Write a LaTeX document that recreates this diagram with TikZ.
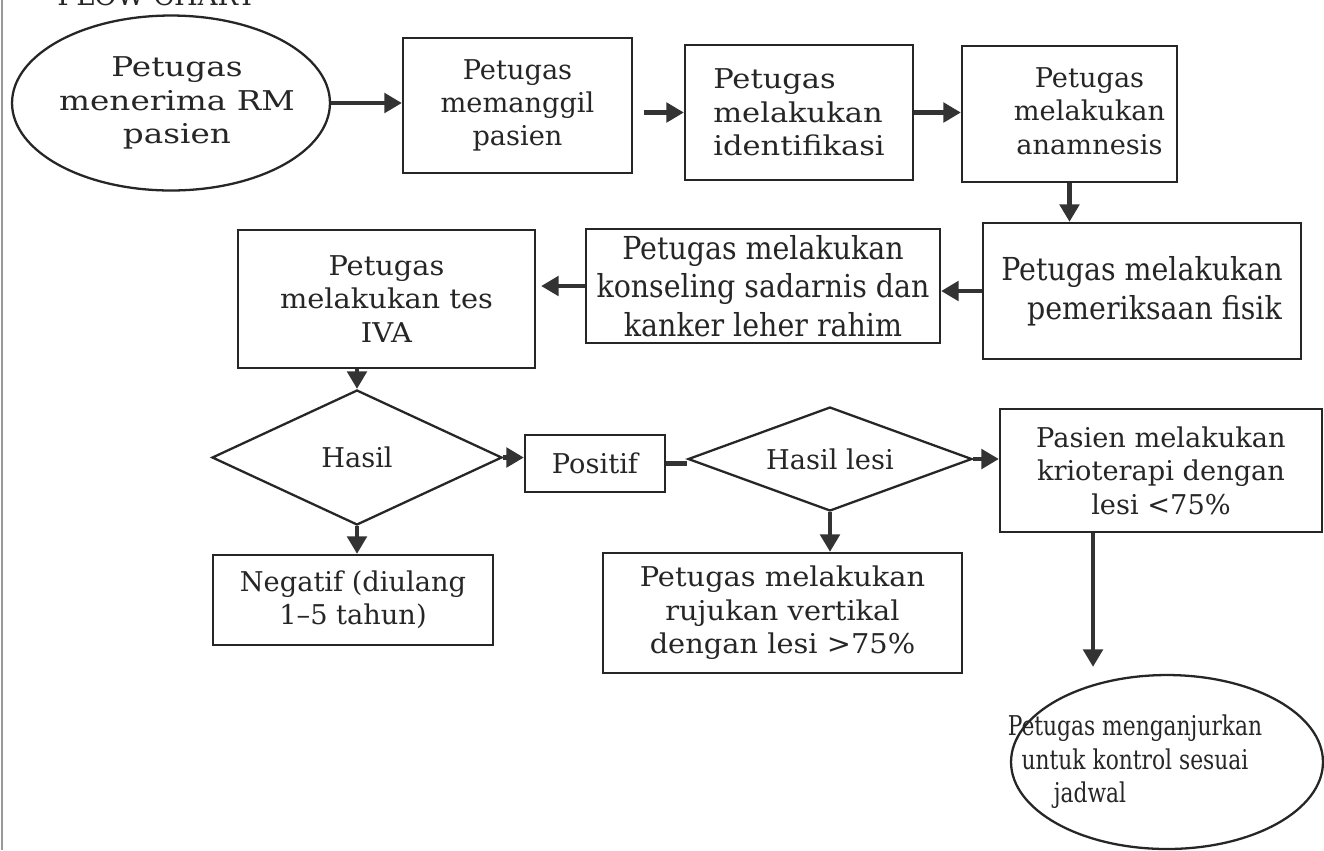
\documentclass[tikz,border=0pt]{standalone}
\usepackage{fontspec}
\setmainfont{DejaVu Serif}
% width variants of the body face
\newfontfamily\narrowface[FakeStretch=0.9]{DejaVu Serif}
\newfontfamily\slimface[FakeStretch=0.8]{DejaVu Serif}
\newfontfamily\wideface[FakeStretch=1.2]{DejaVu Serif}
\newfontfamily\broadface[FakeStretch=1.12]{DejaVu Serif}
\newfontfamily\looseface[FakeStretch=1.06]{DejaVu Serif}
\usetikzlibrary{shapes.geometric,arrows.meta}

\tikzset{
  txt/.style={font=\fontsize{15.5}{19}\selectfont, text=black!85},
  box/.style={txt, draw=black!85, line width=1.3pt, align=center, inner sep=2pt},
  oval/.style={box, ellipse, inner sep=0pt},
  decision/.style={box, diamond, aspect=2, inner sep=0pt},
  flowarrow/.style={line width=2.7pt, draw=black!80, -{Triangle[length=10pt,width=11pt]}},
  flowline/.style={line width=2.7pt, draw=black!80},
}

\begin{document}
\begin{tikzpicture}[x=0.02cm, y=-0.02cm]
\useasboundingbox (0,0) rectangle (1324,850);
\fill[white] (0,0) rectangle (1324,850);

% page edge and heading
\draw[black!40, line width=1pt] (2,0) -- (2,850);
\node[txt, anchor=base west, inner sep=0pt] (title) at (57,5) {FLOW CHART};

% top row
\node[oval, minimum width=6.36cm, minimum height=3.5cm] (e1) at (171,103) {};
\node[txt, align=center, inner sep=0pt, font=\wideface\fontsize{15.5}{19}\selectfont] (e1text) at (177,103)
  {Petugas\\menerima RM\\pasien};
\node[box, minimum width=4.58cm, minimum height=2.7cm] (b2) at (517.5,105.5)
  {Petugas\\memanggil\\pasien};
\node[box, align=left, minimum width=4.56cm, minimum height=2.7cm, font=\broadface\fontsize{15.5}{19}\selectfont] (b3) at (799,112.5)
  {Petugas\\melakukan\\identifikasi};
\node[box, minimum width=4.3cm, minimum height=2.72cm] (b4) at (1069.5,114)
  {\hspace*{0.8cm}\begin{tabular}{@{}c@{}}Petugas\\melakukan\\anamnesis\end{tabular}};

% second row
\node[box, minimum width=6.36cm, minimum height=2.72cm, font=\narrowface\fontsize{18}{22}\selectfont] (b5) at (1142,291)
  {Petugas melakukan\\\hspace*{0.5cm}pemeriksaan fisik};
\node[box, minimum width=7.08cm, minimum height=2.28cm, font=\narrowface\fontsize{18}{22}\selectfont] (b6) at (763,286)
  {Petugas melakukan\\konseling sadarnis dan\\kanker leher rahim};
\node[box, minimum width=5.94cm, minimum height=2.76cm, font=\looseface\fontsize{15.5}{19}\selectfont] (b7) at (386.5,299)
  {Petugas\\melakukan tes\\IVA};

% decisions
\node[decision, minimum width=5.8cm, minimum height=2.7cm] (d1) at (357,457.5) {Hasil};
\node[box, minimum width=2.8cm, minimum height=1.14cm] (pos) at (595,463.5) {Positif};
\node[decision, minimum width=5.68cm, minimum height=2.08cm] (d2) at (830,459) {Hasil lesi};
\node[box, minimum width=6.44cm, minimum height=2.46cm] (krio) at (1161,470.5)
  {Pasien melakukan\\krioterapi dengan\\lesi <75\%};

% outcomes
\node[box, minimum width=5.6cm, minimum height=1.8cm] (neg) at (353,600)
  {Negatif (diulang\\1–5 tahun)};
\node[box, minimum width=7.18cm, minimum height=2.4cm, font=\looseface\fontsize{15.5}{19}\selectfont] (ruj) at (782.5,613)
  {Petugas melakukan\\rujukan vertikal\\dengan lesi >75\%};
\node[oval, minimum width=6.24cm, minimum height=3.48cm] (e2) at (1167,762) {};
\node[txt, align=center, inner sep=0pt, font=\slimface\fontsize{15.5}{19}\selectfont] (e2text) at (1135,762)
  {Petugas menganjurkan\\untuk kontrol sesuai\\jadwal\hspace*{1.8cm}};

% connectors
\draw[flowarrow] (e1.east) -- (e1.east -| b2.west);
\draw[flowarrow, shorten <=0.22cm] (b2.east |- b3.west) -- (b3.west);
\draw[flowarrow] (b3.east) -- (b3.east -| b4.west);
\draw[flowarrow] (b4.south) -- (b4.south |- b5.north);
\draw[flowarrow] (b5.west) -- (b5.west -| b6.east);
\draw[flowarrow, shorten >=0.1cm] (b6.west) -- (b6.west -| b7.east);
\draw[flowarrow] (d1.north |- b7.south) -- (d1.north);
\draw[flowarrow] (d1.east) -- (d1.east -| pos.west);
\draw[flowarrow] (d1.south) -- (d1.south |- neg.north);
\draw[flowline] (pos.east) -- (pos.east -| d2.west);
\draw[flowarrow] (d2.east) -- (d2.east -| krio.west);
\draw[flowarrow] (d2.south) -- (d2.south |- ruj.north);
\draw[flowarrow, shorten >=0.14cm] ([xshift=-1.36cm]krio.south) -- ([xshift=-1.36cm]krio.south |- e2.north);
\end{tikzpicture}
\end{document}
